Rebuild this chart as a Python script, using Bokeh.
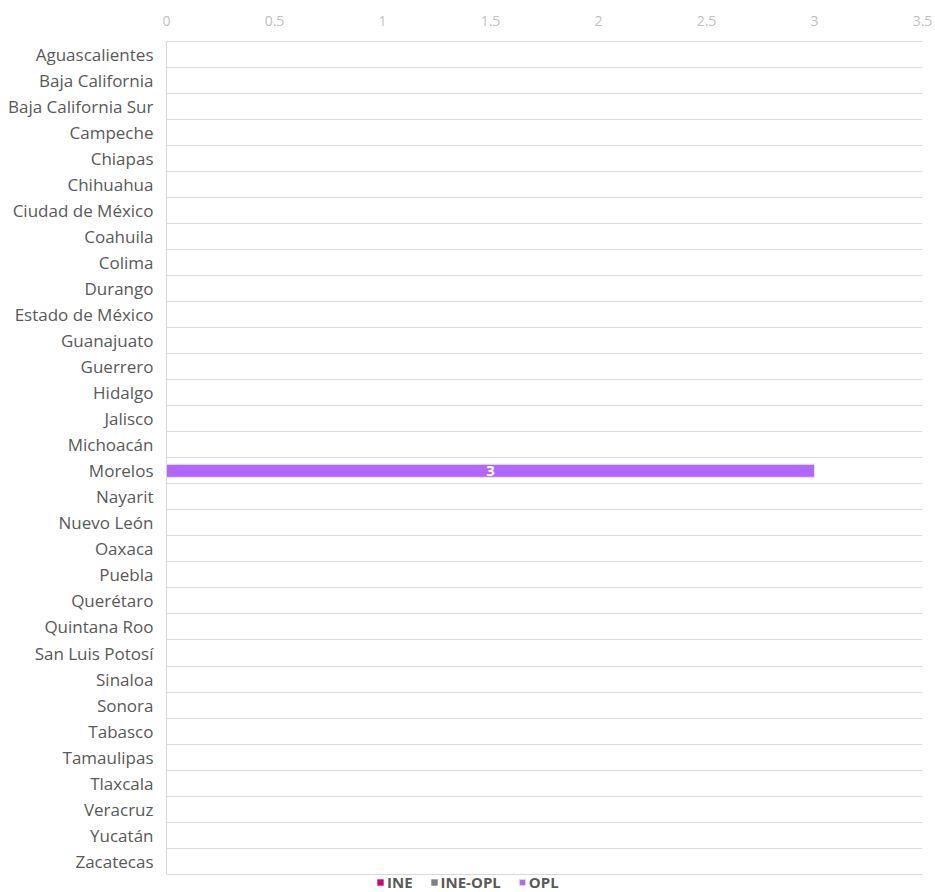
from bokeh.plotting import figure
from bokeh.models import ColumnDataSource, FixedTicker, Range1d, Legend, LegendItem
from bokeh.embed import file_html
from bokeh.resources import INLINE
from bokeh.core.properties import value

states = ["Aguascalientes", "Baja California", "Baja California Sur", "Campeche", "Chiapas",
          "Chihuahua", "Ciudad de México", "Coahuila", "Colima", "Durango", "Estado de México",
          "Guanajuato", "Guerrero", "Hidalgo", "Jalisco", "Michoacán", "Morelos", "Nayarit",
          "Nuevo León", "Oaxaca", "Puebla", "Querétaro", "Quintana Roo", "San Luis Potosí",
          "Sinaloa", "Sonora", "Tabasco", "Tamaulipas", "Tlaxcala", "Veracruz", "Yucatán",
          "Zacatecas"]
ine = [0] * 32
ine_opl = [0] * 32
opl = [0] * 32
opl[states.index("Morelos")] = 3

series = ["INE", "INE-OPL", "OPL"]
colors = ["#D6007A", "#7F7F7F", "#B266FF"]

x_ticks = [0, 0.5, 1, 1.5, 2, 2.5, 3, 3.5]
x_tick_labels = ["0", "0.5", "1", "1.5", "2", "2.5", "3", "3.5"]

FONT = "Open Sans"

n = len(states)
ypos = [i + 0.5 for i in range(n)]
src = ColumnDataSource(dict(y=ypos, INE=ine, **{"INE-OPL": ine_opl}, OPL=opl))

ROWS_PX = 833          # height of the 32 category rows
FRAME_PX = 852         # frame extends below the rows to hold the legend
span = FRAME_PX * n / ROWS_PX

p = figure(frame_width=756, frame_height=FRAME_PX, output_backend="svg", toolbar_location=None,
           x_range=Range1d(0, 3.5), y_range=Range1d(span - 0.03, -0.03), x_axis_location="above",
           min_border_left=166, min_border_right=10, min_border_top=40, min_border_bottom=0)

renderers = p.hbar_stack(series, y="y", height=0.5, source=src, color=colors,
                         line_color=["white", "white", "#e4e4e4"], line_alpha=[0, 0, 1],
                         line_width=1)

# data labels for non-zero totals
lx, ly, lt = [], [], []
for i in range(n):
    tot = ine[i] + ine_opl[i] + opl[i]
    if tot > 0:
        lx.append(tot / 2)
        ly.append(ypos[i])
        lt.append(str(opl[i]))
p.text(x=lx, y=ly, text=lt, text_color="white", text_font=value(FONT), text_font_style="bold",
       text_font_size="15px", text_align="center", text_baseline="middle")

# axes
p.xaxis.ticker = FixedTicker(ticks=x_ticks)
p.xaxis.major_label_overrides = {t: l for t, l in zip(x_ticks, x_tick_labels)}
p.xaxis.axis_line_color = None
p.xaxis.major_tick_line_color = None
p.xaxis.major_tick_out = 0
p.xaxis.minor_tick_line_color = None
p.xaxis.major_label_text_color = "#BFBFBF"
p.xaxis.major_label_text_font = FONT
p.xaxis.major_label_text_font_size = "14px"
p.xaxis.major_label_standoff = 15

p.yaxis.ticker = FixedTicker(ticks=ypos)
p.yaxis.major_label_overrides = {y: s for y, s in zip(ypos, states)}
p.yaxis.bounds = (0, n)
p.yaxis.axis_line_color = "#D9D9D9"
p.yaxis.major_tick_line_color = None
p.yaxis.major_tick_out = 0
p.yaxis.minor_tick_line_color = None
p.yaxis.major_label_text_color = "#595959"
p.yaxis.major_label_text_font = FONT
p.yaxis.major_label_text_font_size = "17px"
p.yaxis.major_label_standoff = 13

p.xgrid.grid_line_color = None
p.ygrid.ticker = FixedTicker(ticks=list(range(n + 1)))
p.ygrid.grid_line_color = "#D9D9D9"
p.ygrid.grid_line_width = 1
p.outline_line_color = None

legend = Legend(items=[LegendItem(label=s, renderers=[r]) for s, r in zip(series, renderers)],
                orientation="horizontal", location=(210, 0), padding=0, margin=0,
                spacing=17, glyph_width=8, glyph_height=8, label_standoff=3,
                label_text_font=FONT, label_text_font_size="15px", label_text_font_style="bold",
                label_text_color="#595959", label_height=12, border_line_color=None,
                background_fill_alpha=0)
p.add_layout(legend, "center")

open("out.html", "w").write(file_html(p, INLINE))
